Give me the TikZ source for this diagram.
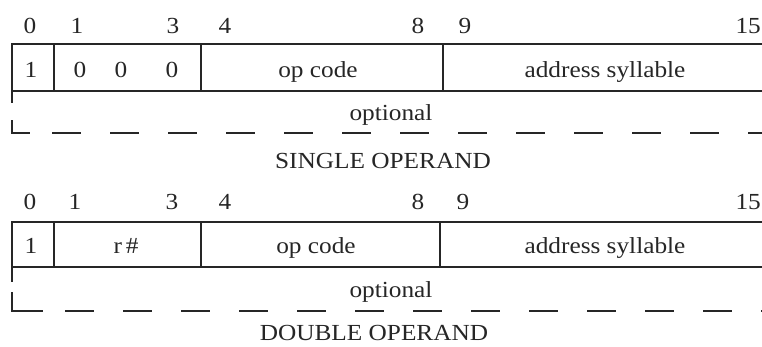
\documentclass[tikz,border=0pt]{standalone}
\usepackage{fontspec}
\setmainfont{Liberation Serif}[FakeStretch=1.1]
\begin{document}
\begin{tikzpicture}[x=1pt,y=-1pt,
  every node/.style={inner sep=0pt,text=black!85,font=\fontsize{23}{26}\selectfont},
  lbl/.style={anchor=base},
  frame/.style={line width=1.6pt,draw=black!85},
  optline/.style={line width=1.6pt,draw=black!85,dash pattern=on 29pt off 29pt}]
\useasboundingbox[fill=white] (0,0) rectangle (762,346);

% ---------- SINGLE OPERAND ----------
\node[lbl] (sa0) at (30,33) {0};
\node[lbl] (sa1) at (77,33) {1};
\node[lbl] (sa3) at (173,33) {3};
\node[lbl] (sa4) at (225,33) {4};
\node[lbl] (sa8) at (418,33) {8};
\node[lbl] (sa9) at (465,33) {9};
\node[lbl,anchor=base east] (sa15) at (761,33) {15};

\draw[frame] (762,44) -- (12,44) -- (12,91) -- (762,91);
\draw[frame] (54,44) -- (54,91);
\draw[frame] (201,44) -- (201,91);
\draw[frame] (443,44) -- (443,91);

\node[lbl] (sf1) at (31,77) {1};
\node[lbl] (sf2) at (80,77) {0};
\node[lbl] (sf3) at (121,77) {0};
\node[lbl] (sf4) at (172,77) {0};
\node[lbl] (sop) at (318,77) {op code};
\node[lbl] (sad) at (605,77) {address syllable};

\node[lbl] (sopt) at (391,120) {optional};
\draw[frame] (12,91) -- (12,103);
\draw[frame] (12,120) -- (12,133) -- (30,133);
\draw[optline] (52,133) -- (762,133);

\node[lbl] (stitle) at (383,168) {SINGLE OPERAND};

% ---------- DOUBLE OPERAND ----------
\node[lbl] (da0) at (30,209) {0};
\node[lbl] (da1) at (75,209) {1};
\node[lbl] (da3) at (172,209) {3};
\node[lbl] (da4) at (225,209) {4};
\node[lbl] (da8) at (418,209) {8};
\node[lbl] (da9) at (463,209) {9};
\node[lbl,anchor=base east] (da15) at (761,209) {15};

\draw[frame] (762,222) -- (12,222) -- (12,267) -- (762,267);
\draw[frame] (54,222) -- (54,267);
\draw[frame] (201,222) -- (201,267);
\draw[frame] (440,222) -- (440,267);

\node[lbl] (df1) at (31,253) {1};
\node[lbl] (dreg) at (126,253) {r\,\#};
\node[lbl] (dop) at (316,253) {op code};
\node[lbl] (dad) at (605,253) {address syllable};

\node[lbl] (dopt) at (391,297) {optional};
\draw[frame] (12,267) -- (12,282);
\draw[frame] (12,292) -- (12,311) -- (43,311);
\draw[optline] (65,311) -- (762,311);

\node[lbl] (dtitle) at (374,340) {DOUBLE OPERAND};
\end{tikzpicture}
\end{document}
